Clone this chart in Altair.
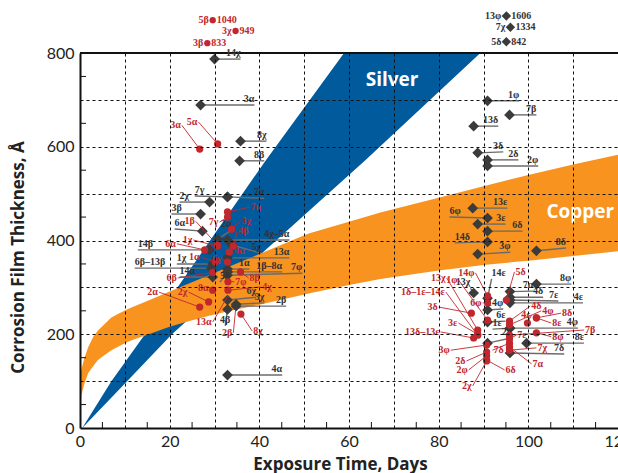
import altair as alt
import pandas as pd

# ---------------- data ----------------
# Silver band (edges): y value, left edge x, right edge x
silver_y = [0, 100, 200, 572, 800]
silver_left = [0.5, 7.0, 14.5, 41.5, 58.9]
silver_right = [0.5, 10.5, 20.5, 63.7, 89.3]

# Copper band: x, lower edge, upper edge
copper_x = [0, 0.3, 1, 1.8, 3, 4, 5.5, 7, 9, 10.7, 12, 15, 20, 24, 29, 34, 40, 51, 60, 67, 80, 90, 100, 110, 120]
copper_low = [21, 70, 95, 117, 133, 145, 156, 166, 176, 184, 189, 199, 216, 227, 240, 251, 263, 287, 305, 318, 336, 348, 357, 367, 377]
copper_high = [105, 125, 150, 172, 195, 208, 222, 236, 246, 254, 259, 271, 291, 307, 327, 347, 371, 415, 440, 460, 491, 516, 540, 562, 583]

# Black diamonds: label, marker x/y, leader-line end x/y, label alignment
blk_label = ["14χ", "3α", "8χ", "8β", "7γ", "7α", "2χ", "3β", "6α", "2α", "4χ–5α", "14β", "13α", "1χ", "6β–13β",
             "1α", "1β–8α", "7φ", "14α", "5β", "6χ", "3χ", "2β", "4β", "4α", "5χ",
             "1φ", "7β", "13δ", "3δ", "2δ", "2φ", "13ε", "6φ", "3ε", "6δ", "14δ", "3φ", "8δ", "8φ", "13χ", "14ε",
             "7α", "4δ", "7ε", "4ε", "14φ", "6ε", "1ε", "2χ", "4φ", "8ε", "7δ"]
blk_x = [30.0, 26.9, 35.8, 35.6, 32.9, 32.9, 28.9, 26.9, 27.3, 30.7, 32.9, 28.9, 32.9, 29.6, 29.3, 32.9, 32.9, 32.9,
         29.6, 32.9, 32.9, 34.8, 34.8, 32.9, 32.9, 34.0,
         90.9, 95.8, 87.8, 88.7, 90.9, 90.9, 87.6, 90.9, 88.7, 90.9, 90.9, 88.7, 101.8, 101.8, 87.8, 90.9, 95.9, 95.9,
         95.9, 95.9, 90.9, 90.9, 95.9, 90.9, 95.9, 99.6, 95.9]
blk_y = [787, 689, 612, 570, 493, 493, 482, 456.5, 420, 403, 401, 380, 363, 350, 341, 339, 333, 326, 322, 333, 273,
         264, 260, 253, 113, 390,
         698, 668, 644, 587, 572, 559, 469, 448, 435, 420, 397, 371, 378, 307, 288, 277, 291, 279, 273, 267, 252, 226,
         213, 181, 213, 181, 160]
blk_ex = [35.8, 38.9, 41.6, 41.1, 25.6, 41.1, 22.2, 20.4, 21.1, 33.8, 46.7, 12.9, 46.7, 21.6, 12.2, 37.8, 45.1, 49.6,
          22.2, 31.2, 39.3, 41.1, 46.0, 32.4, 45.1, 40.4,
          98.0, 101.8, 93.3, 94.4, 97.8, 102.2, 95.3, 82.4, 94.9, 98.7, 83.6, 96.0, 108.4, 109.6, 87.1, 91.8, 101.1,
          103.3, 106.7, 112.2, 94.4, 94.9, 92.0, 96.2, 111.1, 112.4, 108.0]
blk_ey = [787, 689, 612, 570, 495, 490, 482, 456.5, 424.5, 422, 401, 380, 363, 350, 341, 339, 333, 330, 322, 311, 279,
          267, 260, 218, 113, 373,
          698, 668, 644, 589, 572, 559, 469, 450, 435, 420, 395, 375, 384, 307, 298, 318, 292, 279, 271, 267, 254, 228,
          211, 192, 213, 181, 158]
blk_align = ["right", "right", "right", "right", "left", "right", "left", "left", "left", "right", "right", "left",
             "right", "left", "left", "right", "right", "right", "left", "left", "right", "right", "right", "center",
             "right", "right",
             "right", "right", "right", "right", "right", "right", "right", "left", "right", "right", "left", "right",
             "right", "right", "right", "left", "right", "right", "right", "right", "right", "right", "left", "right",
             "right", "right", "right"]

# Red circles: label, marker x/y, leader-line end x/y, alignment, whether a dot is drawn
red_label = ["3α", "5α", "7η", "7γ", "1β", "3χ", "4β", "6α", "1χ", "4α", "1α", "6γ", "8β", "7φ", "6β", "8α", "2α",
             "2χ", "4χ", "13α", "2β", "8χ",
             "3δ", "6φ", "5δ", "14φ", "1φ", "13χ", "1δ–1ε–14ε", "3ε", "13δ–13ε", "3φ", "2δ", "2φ", "2χ", "7δ", "6δ",
             "7α", "4δ", "4φ", "8δ", "4ε", "8ε", "7β", "7ε", "8φ", "7χ"]
red_x = [26.7, 30.7, 32.9, 32.9, 30.7, 33.8, 34.2, 27.8, 30.7, 33.3, 30.2, 32.9, 35.8, 33.0, 29.6, 29.6, 26.7, 28.7,
         33.0, 33.0, 34.7, 35.9,
         87.3, 90.9, 95.1, 90.9, 90.9, 88.7, 88.7, 88.7, 87.8, 90.7, 90.7, 90.7, 90.7, 95.8, 90.7, 95.8, 95.8, 95.8,
         101.8, 99.8, 101.8, 95.8, 95.8, 101.8, 95.8]
red_y = [595, 606, 461, 450, 390, 424, 388, 380, 388, 375, 354, 354, 333, 312, 332, 294, 258, 269, 294, 282, 252, 243,
         245, 267, 273, 282, 230, 209, 198, 200, 192, 177, 162, 154, 143, 181, 145, 173, 228, 220, 235, 224, 235, 198,
         190, 203, 166]
red_lx = [22.7, 26.4, 37.8, 31.1, 25.8, 35.8, 35.1, 21.6, 25.3, 34.2, 26.9, 31.8, 37.6, 34.4, 21.8, 28.9, 17.6, 24.2,
          40.4, 29.6, 34.2, 38.4,
          80.0, 89.8, 96.9, 88.2, 84.4, 81.8, 81.6, 84.4, 80.4, 82.7, 86.2, 86.7, 87.6, 92.0, 94.7, 100.7, 100.4, 102.9,
          107.3, 100.7, 105.1, 112.4, 97.3, 105.1, 101.8]
red_ly = [646, 653, 471, 439, 441, 441, 420, 393, 401, 378, 365, 360.5, 320, 312, 320, 298, 290, 290, 301, 226, 203,
          207,
          258, 267, 333, 331, 316, 320, 290, 224, 205, 166, 143, 124, 90, 166, 124, 137, 260, 250, 245, 241, 224, 209,
          198, 195, 171]
red_align = ["right", "right", "left", "right", "right", "left", "left", "right", "right", "left", "right", "right",
             "left", "left", "right", "right", "right", "right", "left", "right", "right", "left",
             "right", "right", "left", "right", "right", "right", "right", "right", "right", "right", "right", "right",
             "right", "left", "left", "left", "left", "left", "left", "right", "left", "left", "left", "left", "left"]
red_dot = [True] * 19 + [False, False, True] + [True] * 25

# Off-scale values written above the frame
top_red_label = ["5β", "3χ", "3β"]
top_red_value = [1040, 949, 833]
top_red_x = [29.6, 34.7, 28.4]
top_red_pos = [870, 847, 821]
top_blk_label = ["13φ", "7χ", "5δ"]
top_blk_value = [1606, 1334, 842]
top_blk_x = [95.1, 96.0, 95.1]
top_blk_pos = [879, 855, 824]

band_names = ["Silver", "Copper"]
band_label_x = [69.6, 111.6]
band_label_y = [742, 461]

x_minor = [5, 15, 25, 35, 45, 55, 65, 75, 85, 95, 105, 115]
y_minor = [50, 150, 250, 350, 450, 550, 650, 750]

# ---------------- styling ----------------
W, H = 538, 375
BLUE = "#005a9c"
ORANGE = "#f7931e"
RED = "#c1272d"
DARK = "#3b3b3b"
LINE_GRAY = "#6b6b6b"
INK = "#222222"
LBL_FONT = "Liberation Serif"

xs = alt.Scale(domain=[0, 120], nice=False, zero=False)
ys = alt.Scale(domain=[0, 800], nice=False, zero=False)

x_axis = alt.Axis(
    values=list(range(0, 121, 5)), title="Exposure Time, Days", ticks=False, tickSize=0,
    labelExpr="datum.value % 20 === 0 ? datum.label : ''",
    grid=True, gridColor="#111111", gridDash=[3, 3], gridWidth=1,
    gridOpacity={"condition": {"test": "datum.value % 10 === 0 && datum.value > 0", "value": 1}, "value": 0},
    domainColor="#111111", domainWidth=2,
    labelFont="Lato", labelFontSize=16, labelColor=INK, labelPadding=5,
    labelFlush=False, labelOverlap=False,
    titleFont="Open Sans", titleFontSize=17, titleFontWeight="bold", titleColor=INK,
    titleX=260, titleY=41, titleBaseline="alphabetic", titleAlign="center",
    zindex=1,
)
y_axis = alt.Axis(
    values=list(range(0, 801, 50)), title="Corrosion Film Thickness, Å", ticks=False, tickSize=0,
    labelExpr="datum.value % 200 === 0 ? datum.label : ''",
    grid=True, gridColor="#111111", gridDash=[3, 3], gridWidth=1,
    gridOpacity={"condition": {"test": "datum.value % 100 === 0 && datum.value > 0 && datum.value < 800",
                               "value": 1}, "value": 0},
    domainColor="#111111", domainWidth=2,
    labelFont="Lato", labelFontSize=16, labelColor=INK, labelPadding=6,
    labelFlush=False, labelOverlap=False,
    titleFont="Open Sans", titleFontSize=17, titleFontWeight="bold", titleColor=INK,
    titleX=-62, titleY=204, titleBaseline="middle", titleAlign="center",
    zindex=1,
)


def X(f):
    return alt.X(f, type="quantitative", scale=xs, axis=x_axis)


def Y(f):
    return alt.Y(f, type="quantitative", scale=ys, axis=y_axis)


silver_df = pd.DataFrame({"yv": silver_y, "xl": silver_left, "xr": silver_right})
copper_df = pd.DataFrame({"x": copper_x, "lo": copper_low, "hi": copper_high})
blk_df = pd.DataFrame({"label": blk_label, "x": blk_x, "y": blk_y, "ex": blk_ex, "ey": blk_ey, "align": blk_align})
red_df = pd.DataFrame({"label": red_label, "x": red_x, "y": red_y, "lx": red_lx, "ly": red_ly,
                       "align": red_align, "dot": red_dot})
top_red_df = pd.DataFrame({"label": top_red_label, "value": [str(v) for v in top_red_value],
                           "x": top_red_x, "y": top_red_pos})
top_blk_df = pd.DataFrame({"label": top_blk_label, "value": [str(v) for v in top_blk_value],
                           "x": top_blk_x, "y": top_blk_pos})
band_df = pd.DataFrame({"name": band_names, "x": band_label_x, "y": band_label_y})
xm_df = pd.DataFrame({"v": x_minor})
ym_df = pd.DataFrame({"v": y_minor})

layers = []

layers.append(alt.Chart(silver_df).mark_area(orient="horizontal", color=BLUE, opacity=1).encode(
    y=Y("yv"), x=X("xl"), x2="xr"))
layers.append(alt.Chart(copper_df).mark_area(color=ORANGE, opacity=1).encode(
    x=X("x"), y=Y("lo"), y2="hi"))

layers.append(alt.Chart(band_df).mark_text(font="Open Sans", fontSize=19, fontWeight="bold", color="white").encode(
    x=X("x"), y=Y("y"), text="name:N"))

# inward minor ticks and top frame line
layers.append(alt.Chart(xm_df).mark_rule(color="#111111", strokeWidth=1).encode(
    x=X("v"), y=alt.value(H), y2=alt.value(H - 6)))
layers.append(alt.Chart(ym_df).mark_rule(color="#111111", strokeWidth=1).encode(
    y=Y("v"), x=alt.value(0), x2=alt.value(6)))
layers.append(alt.Chart(pd.DataFrame({"a": [0]})).mark_rule(color="#111111", strokeWidth=2).encode(
    x=alt.value(0), x2=alt.value(W), y=alt.value(0)))

# black leader lines, diamonds, labels
layers.append(alt.Chart(blk_df).mark_rule(color=LINE_GRAY, strokeWidth=1.4).encode(
    x=X("x"), y=Y("y"), x2="ex", y2="ey"))
layers.append(alt.Chart(blk_df).mark_point(shape="diamond", filled=True, size=115, color=DARK, opacity=1).encode(
    x=X("x"), y=Y("y")))
for a in ["right", "left", "center"]:
    layers.append(alt.Chart(blk_df).transform_filter(alt.datum.align == a).mark_text(
        align=a, baseline="bottom", dy=-1, font=LBL_FONT, fontSize=10, fontWeight="bold", color="#333333").encode(
        x=X("ex"), y=Y("ey"), text="label:N"))

# red leader lines, dots, labels
layers.append(alt.Chart(red_df).mark_rule(color=RED, strokeWidth=0.9).encode(
    x=X("x"), y=Y("y"), x2="lx", y2="ly"))
layers.append(alt.Chart(red_df).transform_filter(alt.datum.dot).mark_circle(size=52, color=RED, opacity=1).encode(
    x=X("x"), y=Y("y")))
for a, d in [("right", -1), ("left", 1)]:
    layers.append(alt.Chart(red_df).transform_filter(alt.datum.align == a).mark_text(
        align=a, baseline="middle", dx=d, font=LBL_FONT, fontSize=10, fontWeight="bold", color=RED).encode(
        x=X("lx"), y=Y("ly"), text="label:N"))

# off-scale annotations above the frame
layers.append(alt.Chart(top_red_df).mark_circle(size=40, color=RED, opacity=1).encode(x=X("x"), y=Y("y")))
layers.append(alt.Chart(top_red_df).mark_text(align="right", baseline="middle", dx=-4, font=LBL_FONT, fontSize=10,
                                              fontWeight="bold", color=RED).encode(x=X("x"), y=Y("y"), text="label:N"))
layers.append(alt.Chart(top_red_df).mark_text(align="left", baseline="middle", dx=4, font=LBL_FONT, fontSize=10,
                                              fontWeight="bold", color=RED).encode(x=X("x"), y=Y("y"), text="value:N"))
layers.append(alt.Chart(top_blk_df).mark_point(shape="diamond", filled=True, size=90, color=DARK, opacity=1).encode(
    x=X("x"), y=Y("y")))
layers.append(alt.Chart(top_blk_df).mark_text(align="right", baseline="middle", dx=-5, font=LBL_FONT, fontSize=10,
                                              fontWeight="bold", color="#333333").encode(x=X("x"), y=Y("y"), text="label:N"))
layers.append(alt.Chart(top_blk_df).mark_text(align="left", baseline="middle", dx=5, font=LBL_FONT, fontSize=10,
                                              fontWeight="bold", color="#333333").encode(x=X("x"), y=Y("y"), text="value:N"))

chart = alt.layer(*layers).properties(
    width=W, height=H,
    padding={"left": 80, "top": 53, "right": 0, "bottom": 45},
    autosize=alt.AutoSizeParams(type="none"),
    background="white",
).configure_view(stroke=None)

chart.save("out.html", embed_options={"renderer": "svg", "actions": False})
